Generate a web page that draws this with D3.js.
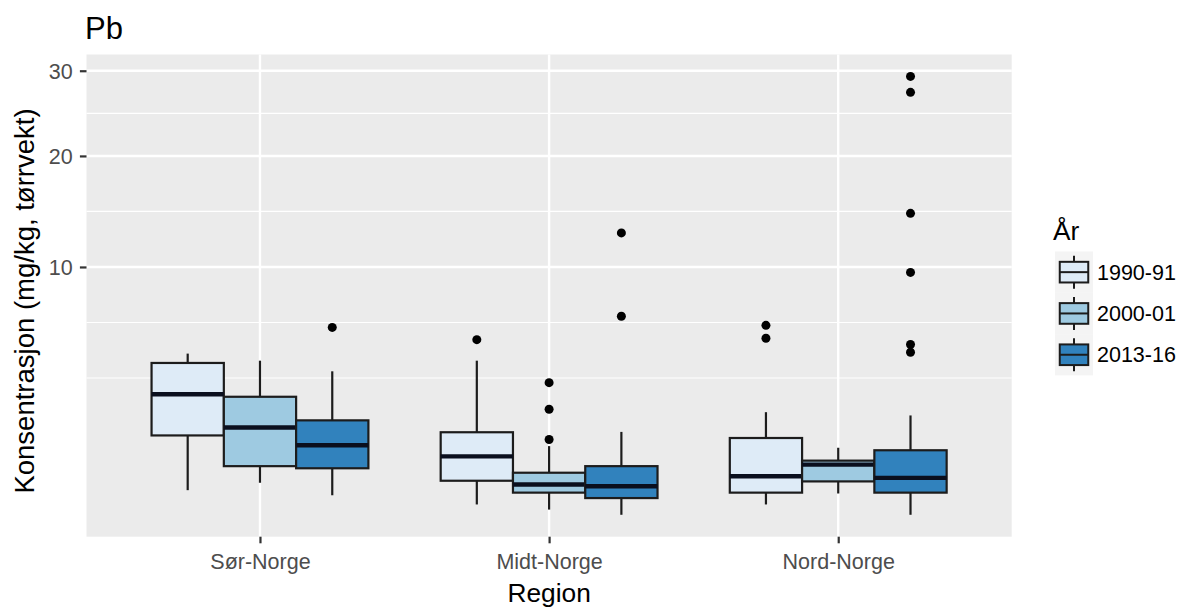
<!DOCTYPE html>
<html><head><meta charset="utf-8">
<script src="https://cdn.jsdelivr.net/npm/d3@7"></script>
<style>
body{margin:0;background:#fff;}
svg{display:block;}
text{font-family:"Liberation Sans",Arial,Helvetica,sans-serif;}
</style>
</head><body>
<svg id="chart" width="1188" height="608"></svg>
<script>
// ---- data (rows = region, columns = year) ----
const regions = ["Sør-Norge", "Midt-Norge", "Nord-Norge"];
const years = ["1990-91", "2000-01", "2013-16"];
const yearColors = ["#DEEBF7", "#9ECAE1", "#3182BD"];
const lowerWhisker = [[0.28, 0.38, 0.22], [0.13, 0.09, 0.057], [0.13, 0.24, 0.057]];
const q1 =           [[1.38, 0.66, 0.62], [0.41, 0.25, 0.19], [0.25, 0.40, 0.25]];
const median =       [[2.76, 1.61, 1.12], [0.86, 0.355, 0.33], [0.48, 0.69, 0.455]];
const q3 =           [[4.12, 2.66, 1.83], [1.47, 0.54, 0.66], [1.31, 0.77, 1.00]];
const upperWhisker = [[4.58, 4.23, 3.73], [4.23, 1.10, 1.48], [2.10, 1.06, 1.99]];
const outliers = [
  [[], [], [6.0]],
  [[5.31], [1.27, 2.20, 3.23], [6.66, 12.7]],
  [[5.39, 6.12], [], [4.65, 5.05, 9.6, 14.4, 27.27, 29.27]]
];
const yTicks = [10, 20, 30];

// ---- layout ----
const W = 1188, H = 608;
const pL = 86.5, pR = 1011.7, pT = 54.5, pB = 536.7;
const svg = d3.select("#chart");

// ---- scales ----
const x = d3.scalePoint().domain(regions).range([pL, pR]).padding(0.6);
const step = x.step();
const xYear = d3.scaleBand().domain(years).range([-0.375 * step, 0.375 * step]).padding(0);
const color = d3.scaleOrdinal().domain(years).range(yearColors);

const allVals = lowerWhisker.flat().concat(upperWhisker.flat(), outliers.flat(2));
const sLo = Math.sqrt(d3.min(allVals)), sHi = Math.sqrt(d3.max(allVals));
const pad = (sHi - sLo) * 0.05;
const lo = sLo - pad, hi = sHi + pad;
const y = d3.scaleSqrt().domain([Math.sign(lo) * lo * lo, hi * hi]).range([pB, pT]);

// ---- panel ----
svg.append("rect").attr("x", pL).attr("y", pT).attr("width", pR - pL).attr("height", pB - pT).attr("fill", "#EBEBEB");

// minor breaks (midpoints in sqrt space, ggplot style)
const b = yTicks.map(Math.sqrt);
const bd = b[1] - b[0];
const ext = [b[0] - bd, ...b, b[b.length - 1] + bd];
const minors = [];
for (let i = 0; i < ext.length - 1; i++) minors.push((ext[i] + ext[i + 1]) / 2);
minors.push(ext[0]);
const minorVals = minors.filter(s => s > Math.max(lo, 0) && s < hi).map(s => s * s);

svg.append("g").selectAll("line").data(minorVals).join("line")
  .attr("x1", pL).attr("x2", pR).attr("y1", d => y(d)).attr("y2", d => y(d))
  .attr("stroke", "#fff").attr("stroke-width", 1.2);
svg.append("g").selectAll("line").data(yTicks).join("line")
  .attr("x1", pL).attr("x2", pR).attr("y1", d => y(d)).attr("y2", d => y(d))
  .attr("stroke", "#fff").attr("stroke-width", 2.4);
svg.append("g").selectAll("line").data(regions).join("line")
  .attr("x1", d => x(d)).attr("x2", d => x(d)).attr("y1", pT).attr("y2", pB)
  .attr("stroke", "#fff").attr("stroke-width", 2.4);

// ---- boxes ----
const boxes = [];
regions.forEach((r, i) => years.forEach((yr, j) => boxes.push({
  region: r, year: yr,
  lw: lowerWhisker[i][j], q1: q1[i][j], med: median[i][j], q3: q3[i][j], uw: upperWhisker[i][j],
  out: outliers[i][j]
})));

const lineCol = "#1c1c1c";
const bw = xYear.bandwidth();
const g = svg.append("g");
boxes.forEach(d => {
  const x0 = x(d.region) + xYear(d.year);
  const xc = x0 + bw / 2;
  g.append("line").attr("x1", xc).attr("x2", xc).attr("y1", y(d.q3)).attr("y2", y(d.uw))
    .attr("stroke", lineCol).attr("stroke-width", 2.2);
  g.append("line").attr("x1", xc).attr("x2", xc).attr("y1", y(d.q1)).attr("y2", y(d.lw))
    .attr("stroke", lineCol).attr("stroke-width", 2.2);
  g.append("rect").attr("x", x0).attr("y", y(d.q3)).attr("width", bw).attr("height", y(d.q1) - y(d.q3))
    .attr("fill", color(d.year)).attr("stroke", lineCol).attr("stroke-width", 2.2);
  g.append("line").attr("x1", x0).attr("x2", x0 + bw).attr("y1", y(d.med)).attr("y2", y(d.med))
    .attr("stroke", "#0a0f1e").attr("stroke-width", 4.4);
  g.selectAll(null).data(d.out).join("circle")
    .attr("cx", xc).attr("cy", v => y(v)).attr("r", 4.5).attr("fill", "#000");
});

// ---- axes ----
const axY = svg.append("g").attr("transform", `translate(${pL},0)`)
  .call(d3.axisLeft(y).tickValues(yTicks).tickSize(6.6).tickPadding(7.3));
axY.select(".domain").remove();
axY.selectAll(".tick line").attr("stroke", "#333").attr("stroke-width", 2.2);
axY.selectAll(".tick text").attr("fill", "#4D4D4D").style("font-size", "21.5px").attr("dy", "0.35em");

const axX = svg.append("g").attr("transform", `translate(0,${pB})`)
  .call(d3.axisBottom(x).tickSize(6.6).tickPadding(10.4));
axX.select(".domain").remove();
axX.selectAll(".tick line").attr("stroke", "#333").attr("stroke-width", 2.2);
axX.selectAll(".tick text").attr("fill", "#4D4D4D").style("font-size", "21.5px");

// ---- titles ----
svg.append("text").attr("x", 85).attr("y", 39).style("font-size", "31px").attr("fill", "#000").text("Pb");
svg.append("text").attr("x", (pL + pR) / 2).attr("y", 601.5).attr("text-anchor", "middle")
  .style("font-size", "26.3px").attr("fill", "#000").text("Region");
svg.append("text").attr("transform", `translate(34,301) rotate(-90)`).attr("text-anchor", "middle")
  .style("font-size", "27.5px").attr("fill", "#000").text("Konsentrasjon (mg/kg, tørrvekt)");

// ---- legend ----
const lgX = 1055, lgTop = 251.5, keyW = 38, keyH = 41.3;
svg.append("text").attr("x", 1053).attr("y", 240).style("font-size", "26.3px").attr("fill", "#000").text("År");
const lg = svg.append("g").selectAll("g").data(years).join("g")
  .attr("transform", (d, i) => `translate(${lgX},${lgTop + i * keyH})`);
lg.append("rect").attr("width", keyW).attr("height", keyH).attr("fill", "#F4F4F4");
lg.append("line").attr("x1", keyW / 2).attr("x2", keyW / 2).attr("y1", keyH * 0.1).attr("y2", keyH * 0.9)
  .attr("stroke", lineCol).attr("stroke-width", 2);
lg.append("rect").attr("x", keyW * 0.125).attr("y", keyH * 0.25).attr("width", keyW * 0.75).attr("height", keyH * 0.5)
  .attr("fill", d => color(d)).attr("stroke", lineCol).attr("stroke-width", 2);
lg.append("line").attr("x1", keyW * 0.125).attr("x2", keyW * 0.875).attr("y1", keyH / 2).attr("y2", keyH / 2)
  .attr("stroke", lineCol).attr("stroke-width", 2);
lg.append("text").attr("x", keyW + 4).attr("y", keyH / 2).attr("dy", "0.35em")
  .style("font-size", "21.5px").attr("fill", "#000").text(d => d);
</script>
</body></html>
